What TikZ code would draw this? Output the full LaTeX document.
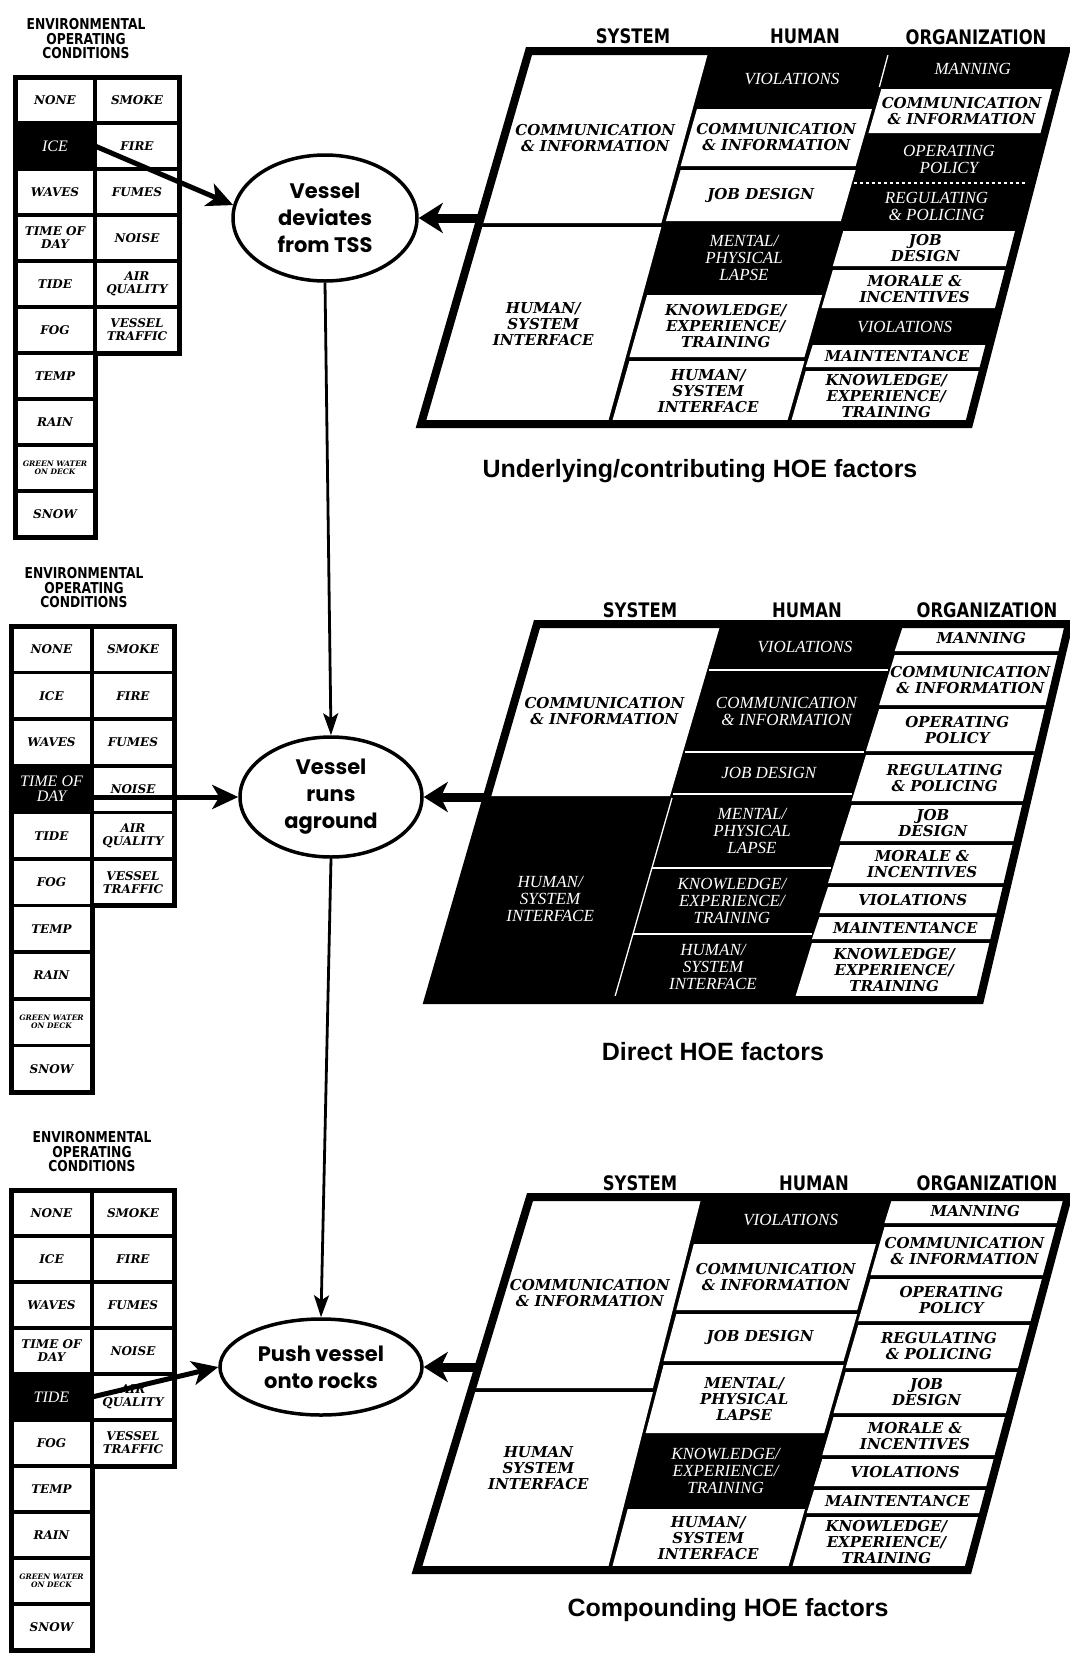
\documentclass[tikz,border=0pt]{standalone}
\usepackage{fontspec}
\setmainfont{Liberation Serif}
\newfontfamily\cellfont{DejaVu Serif}
\newfontfamily\thinfont{Liberation Serif}
\newfontfamily\headfont[FakeStretch=0.82]{DejaVu Sans}
\newfontfamily\ovalfont{Poppins}
\newfontfamily\capfont{Liberation Sans}
\usetikzlibrary{arrows.meta,shapes.geometric}

\tikzset{
  cellw/.style={font=\cellfont\bfseries\itshape\fontsize{15}{16}\selectfont, text=black, align=center, inner sep=0pt},
  cellb/.style={font=\thinfont\itshape\fontsize{17}{17}\selectfont, text=white, align=center, inner sep=0pt},
  sepline/.style={draw=white, line width=1.3pt},
  gridframe/.style={line width=8pt, line join=miter},
  envw/.style={draw, line width=3.5pt, fill=white, inner sep=0pt, outer sep=0pt, align=center, font=\cellfont\bfseries\itshape\fontsize{12}{13}\selectfont},
  envb/.style={draw, line width=3.5pt, fill=black, text=white, inner sep=0pt, outer sep=0pt, align=center, font=\thinfont\itshape\fontsize{16}{15}\selectfont},
  envn/.style={},
  envtiny/.style={font=\cellfont\bfseries\itshape\fontsize{7.5}{8}\selectfont},
  envtitle/.style={align=center, inner sep=0pt, font=\headfont\bfseries\fontsize{15}{14.5}\selectfont},
  header/.style={inner sep=0pt, font=\headfont\bfseries\fontsize{20}{20}\selectfont},
  event/.style={ellipse, draw, line width=3.5pt, fill=white, inner sep=0pt, align=center, font=\ovalfont\bfseries\fontsize{21}{27}\selectfont},
  caption/.style={inner sep=0pt, font=\capfont\bfseries\fontsize{25}{27}\selectfont},
  envarrow/.style={line width=5pt, -{Stealth[length=26pt,width=24pt,inset=7pt]}},
  gridarrow/.style={line width=9pt, -{Stealth[length=24pt,width=30pt,inset=7pt]}},
  flow/.style={line width=2.8pt, -{Stealth[length=22pt,width=15pt,inset=5pt]}},
}

% ---- slanted factor grids -------------------------------------------
\newcommand\setgrid[2]{\def\gyt{#1}\def\gyb{#2}}
\newcommand\setdiv[3]{\expandafter\def\csname gd#1t\endcsname{#2}\expandafter\def\csname gd#1b\endcsname{#3}}
\def\gcgap{2}
% x position of divider #2 at height #3, stored in #1
\newcommand\divx[3]{\edef\dvt{\csname gd#2t\endcsname}\edef\dvb{\csname gd#2b\endcsname}%
  \pgfmathsetmacro\dvr{((#3)-\gyt)/(\gyb-\gyt)}%
  \pgfmathsetmacro#1{\dvt+(\dvb-\dvt)*\dvr}}
% one cell: left divider, right divider, y1, y2, w/b, name, text, node options
\newcommand\gcell[8]{%
  \divx\gxa{#1}{#3}\divx\gxb{#2}{#3}\divx\gxc{#2}{#4}\divx\gxd{#1}{#4}%
  \if w#5\fill[white] ({\gxa+\gcgap},{#3+\gcgap}) -- ({\gxb-\gcgap},{#3+\gcgap}) -- ({\gxc-\gcgap},{#4-\gcgap}) -- ({\gxd+\gcgap},{#4-\gcgap}) -- cycle;\fi
  \pgfmathsetmacro\gxm{(\gxa+\gxb+\gxc+\gxd)/4}%
  \node[cell#5,#8] (#6) at ({\gxm},{(#3+#4)/2}) {#7};}
\newcommand\gsepH[4][]{\divx\gxa{#2}{#4}\divx\gxb{#3}{#4}\draw[sepline,#1] (\gxa,#4) -- (\gxb,#4);}
\newcommand\gsepV[3]{\divx\gxa{#1}{#2}\divx\gxb{#1}{#3}\draw[sepline] (\gxa,#2) -- (\gxb,#3);}
\newcommand\gback{\fill[black] (\gdLt,\gyt) -- (\gdRt,\gyt) -- (\gdRb,\gyb) -- (\gdLb,\gyb) -- cycle;}
\newcommand\gframe{\draw[gridframe] (\gdLt,\gyt) -- (\gdRt,\gyt) -- (\gdRb,\gyb) -- (\gdLb,\gyb) -- cycle;}

% ---- environmental condition tables ----------------------------------
% #1 id, #2 x left, #3 x split, #4 x right, #5 y top, #6 row pitch, #7 dark row, #8 title centre
\newcommand\envtable[8]{%
  \foreach \i/\n/\t/\s in {0/none/NONE/envn,1/ice/ICE/envn,2/waves/WAVES/envn,3/tod/{TIME OF\\DAY}/envn,4/tide/TIDE/envn,5/fog/FOG/envn,6/temp/TEMP/envn,7/rain/RAIN/envn,8/green/{GREEN WATER\\ON DECK}/envtiny,9/snow/SNOW/envn}{%
    \pgfmathsetmacro\ecy{#5+(\i+0.5)*#6}%
    \ifnum\i=#7\relax\def\ecs{envb}\else\def\ecs{envw}\fi
    \node[\ecs,\s,minimum width={#3-#2},minimum height=#6] (\n#1) at ({(#2+#3)/2},\ecy) {\t};
  }
  \foreach \i/\n/\t in {0/smoke/SMOKE,1/fire/FIRE,2/fumes/FUMES,3/noise/NOISE,4/air/{AIR\\QUALITY},5/traffic/{VESSEL\\TRAFFIC}}{%
    \pgfmathsetmacro\ecy{#5+(\i+0.5)*#6}%
    \node[envw,minimum width={#4-#3},minimum height=#6] (\n#1) at ({(#3+#4)/2},\ecy) {\t};
  }
  \draw[line width=5pt] (#2,#5) -- (#4,#5) -- (#4,{#5+6*#6}) -- (#3,{#5+6*#6}) -- (#3,{#5+10*#6}) -- (#2,{#5+10*#6}) -- cycle;
  \node[envtitle] (envtitle#1) at (#8,{#5-38}) {ENVIRONMENTAL\\OPERATING\\CONDITIONS};
}

\begin{document}
\begin{tikzpicture}[x=1pt,y=-1pt]
\useasboundingbox (0,0) rectangle (1069,1655);
\fill[white] (0,0) rectangle (1069,1655);

% tables
\envtable{1}{15}{95}{179}{77}{46}{1}{86}
\envtable{2}{11}{92}{174}{626}{46.6}{3}{84}
\envtable{3}{11}{92}{174}{1190}{46}{4}{92}

% ---------------- grid 1: underlying / contributing ----------------
\setgrid{51}{424}
\setdiv{L}{529}{421}\setdiv{A}{710}{610}\setdiv{B}{889}{789}\setdiv{R}{1066}{969}
\gback
\gcell{L}{A}{51}{225}{w}{g1scomm}{COMMUNICATION\\\& INFORMATION}{}
\gcell{L}{A}{225}{424}{w}{g1shsi}{HUMAN/\\SYSTEM\\INTERFACE}{}
\gcell{A}{B}{51}{107}{b}{g1hviol}{VIOLATIONS}{}
\gcell{A}{B}{107}{168}{w}{g1hcomm}{COMMUNICATION\\\& INFORMATION}{}
\gcell{A}{B}{168}{223}{w}{g1hjob}{JOB DESIGN}{}
\gcell{A}{B}{223}{293}{b}{g1hment}{MENTAL/\\PHYSICAL\\LAPSE}{}
\gcell{A}{B}{293}{359}{w}{g1hknow}{KNOWLEDGE/\\EXPERIENCE/\\TRAINING}{}
\gcell{A}{B}{359}{424}{w}{g1hhsi}{HUMAN/\\SYSTEM\\INTERFACE}{}
\gcell{B}{R}{51}{87}{b}{g1oman}{MANNING}{}
\gcell{B}{R}{87}{135}{w}{g1ocomm}{COMMUNICATION\\\& INFORMATION}{}
\gcell{B}{R}{135}{183}{b}{g1oop}{OPERATING\\POLICY}{}
\gcell{B}{R}{183}{229}{b}{g1oreg}{REGULATING\\\& POLICING}{}
\gcell{B}{R}{229}{268}{w}{g1ojob}{JOB\\DESIGN}{}
\gcell{B}{R}{268}{310}{w}{g1omor}{MORALE \&\\INCENTIVES}{}
\gcell{B}{R}{310}{343}{b}{g1oviol}{VIOLATIONS}{}
\gcell{B}{R}{343}{369}{w}{g1omaint}{MAINTENTANCE}{}
\gcell{B}{R}{369}{424}{w}{g1oknow}{KNOWLEDGE/\\EXPERIENCE/\\TRAINING}{}
\gsepV{B}{51}{87}
\gsepH[dashed]{B}{R}{183}
\gframe
\divx\gxin{L}{218}\coordinate (g1in) at (\gxin,218);
\node[header] (sys1) at (633,36) {SYSTEM};
\node[header] (hum1) at (805,36) {HUMAN};
\node[header] (org1) at (976,37) {ORGANIZATION};
\node[caption] (cap1) at (700,471) {Underlying/contributing HOE factors};

% ---------------- grid 2: direct ----------------
\setgrid{624}{1000}
\setdiv{L}{537}{428}\setdiv{A}{722}{614}\setdiv{B}{901}{793}\setdiv{R}{1069}{980}
\gback
\gcell{L}{A}{624}{798}{w}{g2scomm}{COMMUNICATION\\\& INFORMATION}{}
\gcell{L}{A}{798}{1000}{b}{g2shsi}{HUMAN/\\SYSTEM\\INTERFACE}{}
\gcell{A}{B}{624}{670}{b}{g2hviol}{VIOLATIONS}{}
\gcell{A}{B}{670}{752}{b}{g2hcomm}{COMMUNICATION\\\& INFORMATION}{}
\gcell{A}{B}{752}{794}{b}{g2hjob}{JOB DESIGN}{}
\gcell{A}{B}{794}{868}{b}{g2hment}{MENTAL/\\PHYSICAL\\LAPSE}{}
\gcell{A}{B}{868}{934}{b}{g2hknow}{KNOWLEDGE/\\EXPERIENCE/\\TRAINING}{}
\gcell{A}{B}{934}{1000}{b}{g2hhsi}{HUMAN/\\SYSTEM\\INTERFACE}{}
\gcell{B}{R}{624}{653}{w}{g2oman}{MANNING}{}
\gcell{B}{R}{653}{707}{w}{g2ocomm}{COMMUNICATION\\\& INFORMATION}{}
\gcell{B}{R}{707}{753}{w}{g2oop}{OPERATING\\POLICY}{}
\gcell{B}{R}{753}{803}{w}{g2oreg}{REGULATING\\\& POLICING}{}
\gcell{B}{R}{803}{843}{w}{g2ojob}{JOB\\DESIGN}{}
\gcell{B}{R}{843}{885}{w}{g2omor}{MORALE \&\\INCENTIVES}{}
\gcell{B}{R}{885}{915}{w}{g2oviol}{VIOLATIONS}{}
\gcell{B}{R}{915}{941}{w}{g2omaint}{MAINTENTANCE}{}
\gcell{B}{R}{941}{1000}{w}{g2oknow}{KNOWLEDGE/\\EXPERIENCE/\\TRAINING}{}
\gsepH{A}{B}{670}\gsepH{A}{B}{752}\gsepH{A}{B}{794}\gsepH{A}{B}{868}\gsepH{A}{B}{934}
\gsepV{A}{798}{1000}
\gframe
\divx\gxin{L}{797}\coordinate (g2in) at (\gxin,797);
\node[header] (sys2) at (640,610) {SYSTEM};
\node[header] (hum2) at (807,610) {HUMAN};
\node[header] (org2) at (987,610) {ORGANIZATION};
\node[caption] (cap2) at (713,1052) {Direct HOE factors};

% ---------------- grid 3: compounding ----------------
\setgrid{1197}{1570}
\setdiv{L}{530}{417}\setdiv{A}{703}{610}\setdiv{B}{890}{790}\setdiv{R}{1068}{968}
\gback
\gcell{L}{A}{1197}{1390}{w}{g3scomm}{COMMUNICATION\\\& INFORMATION}{}
\gcell{L}{A}{1390}{1570}{w}{g3shsi}{HUMAN\\SYSTEM\\INTERFACE}{yshift=12pt}
\gcell{A}{B}{1197}{1242}{b}{g3hviol}{VIOLATIONS}{}
\gcell{A}{B}{1242}{1312}{w}{g3hcomm}{COMMUNICATION\\\& INFORMATION}{}
\gcell{A}{B}{1312}{1363}{w}{g3hjob}{JOB DESIGN}{}
\gcell{A}{B}{1363}{1435}{w}{g3hment}{MENTAL/\\PHYSICAL\\LAPSE}{}
\gcell{A}{B}{1435}{1507}{b}{g3hknow}{KNOWLEDGE/\\EXPERIENCE/\\TRAINING}{}
\gcell{A}{B}{1507}{1570}{w}{g3hhsi}{HUMAN/\\SYSTEM\\INTERFACE}{}
\gcell{B}{R}{1197}{1225}{w}{g3oman}{MANNING}{}
\gcell{B}{R}{1225}{1277}{w}{g3ocomm}{COMMUNICATION\\\& INFORMATION}{}
\gcell{B}{R}{1277}{1323}{w}{g3oop}{OPERATING\\POLICY}{}
\gcell{B}{R}{1323}{1370}{w}{g3oreg}{REGULATING\\\& POLICING}{}
\gcell{B}{R}{1370}{1415}{w}{g3ojob}{JOB\\DESIGN}{}
\gcell{B}{R}{1415}{1457}{w}{g3omor}{MORALE \&\\INCENTIVES}{}
\gcell{B}{R}{1457}{1488}{w}{g3oviol}{VIOLATIONS}{}
\gcell{B}{R}{1488}{1515}{w}{g3omaint}{MAINTENTANCE}{}
\gcell{B}{R}{1515}{1570}{w}{g3oknow}{KNOWLEDGE/\\EXPERIENCE/\\TRAINING}{}
\gframe
\divx\gxin{L}{1367}\coordinate (g3in) at (\gxin,1367);
\node[header] (sys3) at (640,1183) {SYSTEM};
\node[header] (hum3) at (814,1183) {HUMAN};
\node[header] (org3) at (987,1183) {ORGANIZATION};
\node[caption] (cap3) at (728,1610) {Compounding HOE factors};

% ---------------- events ----------------
\node[event, minimum width=184pt, minimum height=126pt] (e1) at (325,218) {Vessel\\deviates\\from TSS};
\node[event, minimum width=182pt, minimum height=120pt] (e2) at (331,797) {Vessel\\runs\\aground};
\node[event, minimum width=202pt, minimum height=96pt] (e3) at (321,1367) {Push vessel\\onto rocks};

% ---------------- connectors ----------------
\draw[envarrow] (ice1.east) -- (e1.172);
\draw[envarrow] (tod2.east |- e2.west) -- (e2.west);
\draw[envarrow] (tide3.east) -- (e3.west);
\draw[gridarrow] (g1in) -- (e1.east);
\draw[gridarrow] (g2in) -- (e2.east);
\draw[gridarrow] (g3in) -- (e3.east);
\draw[flow] (e1.south) -- (e2.north);
\draw[flow] (e2.south) -- (e3.north);
\end{tikzpicture}
\end{document}
